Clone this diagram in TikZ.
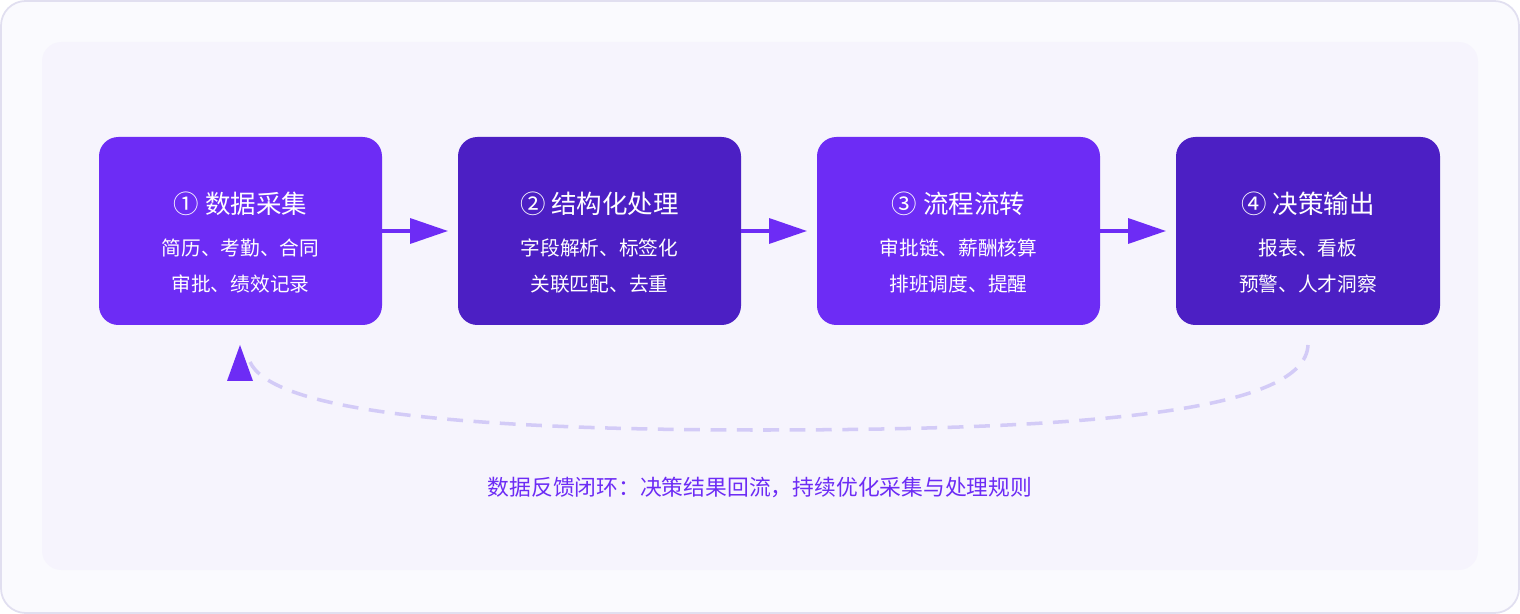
\documentclass[tikz,border=0pt]{standalone}
\usepackage{fontspec}
\setmainfont{Noto Sans CJK SC}
\usetikzlibrary{arrows.meta,positioning}
\definecolor{violetA}{HTML}{6D2CF5}
\definecolor{violetB}{HTML}{4C1FC4}
\definecolor{panel}{HTML}{F6F4FD}
\definecolor{outerbg}{HTML}{FAFAFE}
\definecolor{outerline}{HTML}{E1DFF0}
\definecolor{dashc}{HTML}{D3CBF7}
\tikzset{
  stage/.style={rounded corners=11pt,minimum width=283*0.02cm,minimum height=188*0.02cm,inner sep=0pt},
  title/.style={text=white,font=\fontsize{14.5}{17}\selectfont},
  desc/.style={text=white,align=center,font=\fontsize{11.2}{20}\selectfont},
  flow/.style={violetA,line width=2pt,-{Triangle[length=0.76cm,width=0.5cm]}}
}
\begin{document}
\begin{tikzpicture}[x=0.02cm,y=-0.02cm]
\useasboundingbox (0,0) rectangle (1520,614);
\draw[outerline,fill=outerbg,rounded corners=14pt,line width=1pt] (1,1) rectangle (1519,613);
\fill[panel,rounded corners=11pt] (42,42) rectangle (1478,570);
% stages
\node[stage,fill=violetA] (collect) at (240.5,231) {};
\node[stage,fill=violetB] (struct) at (599.5,231) {};
\node[stage,fill=violetA] (route) at (958.5,231) {};
\node[stage,fill=violetB,minimum width=264*0.02cm] (decide) at (1308,231) {};
\foreach \b/\t/\d in {collect/{① 数据采集}/{简历、考勤、合同\\审批、绩效记录},
                      struct/{② 结构化处理}/{字段解析、标签化\\关联匹配、去重},
                      route/{③ 流程流转}/{审批链、薪酬核算\\排班调度、提醒},
                      decide/{④ 决策输出}/{报表、看板\\预警、人才洞察}}{
  \node[title] (\b-t) at ([yshift=0.54cm]\b.center) {\t};
  \node[desc] (\b-d) at ([yshift=-0.7cm]\b.center) {\d};
}
\coordinate (s1) at (448,231);
\coordinate (s2) at (807,231);
\coordinate (s3) at (1166,231);
\draw[flow] (collect.east) -- (s1);
\draw[flow] (struct.east) -- (s2);
\draw[flow] (route.east) -- (s3);
% feedback loop
\coordinate (fb-start) at (1308,345);
\coordinate (fb-end) at (250,362);
\coordinate (fb-tip) at (240,345);
\draw[dashc,line width=2pt,dash pattern=on 9pt off 6pt] (fb-start) .. controls (1305,410) and (1100,430) .. (760,430)
  .. controls (420,430) and (270,405) .. (fb-end);
\fill[violetA] (fb-tip) -- (253,381) -- (227,381) -- cycle;
\node[text=violetA,font=\fontsize{12.4}{15}\selectfont] (note) at (760,487) {数据反馈闭环：决策结果回流，持续优化采集与处理规则};
\end{tikzpicture}
\end{document}
